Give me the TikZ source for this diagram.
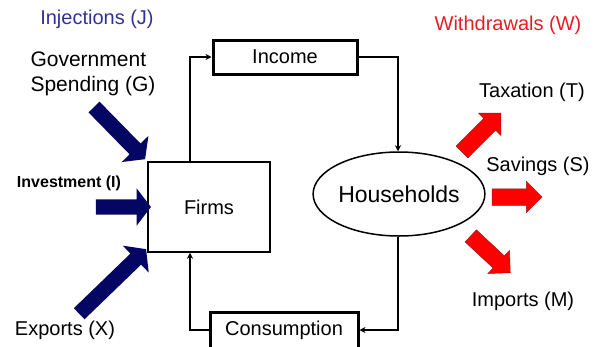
\documentclass[tikz,border=0pt]{standalone}
\usepackage{fontspec}
\setmainfont{Liberation Sans}
\usetikzlibrary{arrows.meta,shapes.geometric,shapes.arrows}
\definecolor{navyarrow}{RGB}{5,5,100}
\definecolor{injblue}{RGB}{50,50,150}
\definecolor{wdred}{RGB}{228,30,36}
\tikzset{
  big/.style={font=\fontsize{20}{24}\selectfont},
  flow/.style={line width=1.6pt,-{Stealth[length=6pt,width=6pt]}},
  thickbox/.style={draw,line width=3pt,minimum width=144pt,minimum height=34pt,big},
  injarrow/.style={single arrow,fill=navyarrow,inner sep=0pt,inner ysep=7.5pt,
    single arrow head extend=11pt,single arrow tip angle=105},
  wdarrow/.style={single arrow,fill=red,draw=wdred!70!black,line width=0.5pt,inner sep=0pt,
    inner ysep=8pt,single arrow head extend=7.5pt,single arrow tip angle=90}
}
\begin{document}
\begin{tikzpicture}[x=1pt,y=-1pt]
    \useasboundingbox (0,0) rectangle (595,346);
    % Titulos
    \node[big,text=injblue] (inj) at (97,19) {Injections (J)};
    \node[big,text=wdred] (wd) at (508,25) {Withdrawals (W)};
    % Cajas del flujo circular
    \node[draw,line width=1.5pt,minimum width=122pt,minimum height=90pt,big] (firms) at (209,207) {Firms};
    \node[thickbox] (income) at (285,57) {Income};
    \node[thickbox,minimum width=148pt,minimum height=36pt] (cons) at (284,330) {Consumption};
    \node[draw,ellipse,line width=1.5pt,minimum width=134pt,minimum height=84pt,inner sep=0pt,
      font=\fontsize{23}{27}\selectfont] (house) at (399,194) {Households};
    \draw[flow] ([xshift=-19pt]firms.north) |- (income.west);
    \draw[flow] ([xshift=-1pt]income.east) -| ([xshift=-1pt]house.north);
    \draw[flow] ([xshift=-1pt]house.south) |- (cons.east);
    \draw[flow] (cons.west) -| ([xshift=-19pt]firms.south);
    % Inyecciones
    \node[font=\fontsize{21}{25}\selectfont,align=left] (gov) at (93,74) {Government\\Spending (G)};
    \node[font=\fontsize{16}{19}\bfseries] (inv) at (69,183) {Investment (I)};
    \node[big] (exp) at (65,330) {Exports (X)};
    \node[injarrow,minimum height=73pt,rotate=-45.6] (govarrow) at (117.5,131) {};
    \node[injarrow,minimum height=55pt] (invarrow) at (120.5,207) {};
    \node[injarrow,minimum height=93pt,rotate=44] (exparrow) at (110.5,283.5) {};
    % Retiros
    \node[big] (tax) at (532,92) {Taxation (T)};
    \node[big] (sav) at (538,166) {Savings (S)};
    \node[big] (imp) at (523,301) {Imports (M)};
    \node[wdarrow,minimum height=55pt,rotate=45] (taxarrow) at (478.5,135.5) {};
    \node[wdarrow,minimum height=50pt] (savarrow) at (513,197) {};
    \node[wdarrow,minimum height=54pt,rotate=-43] (imparrow) at (487.5,251.5) {};
\end{tikzpicture}
\end{document}
